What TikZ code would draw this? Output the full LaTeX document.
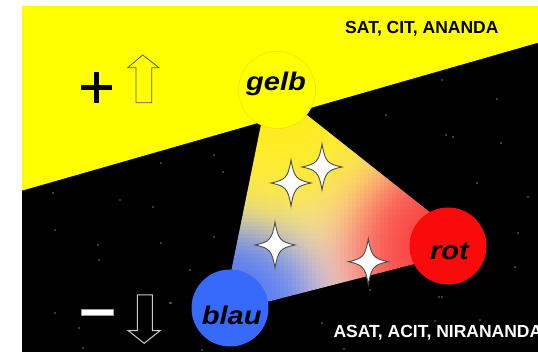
\documentclass[tikz,border=0pt]{standalone}
\usepackage{fontspec}
\setmainfont{Liberation Sans}
\definecolor{yel}{RGB}{255,255,0}
\definecolor{bluec}{RGB}{55,105,250}
\definecolor{redc}{RGB}{250,10,10}
\tikzset{
  sparkle/.pic={
    \draw[fill=white, draw=black!70, line width=0.9pt]
      (0,-23) .. controls (3,-5.5) and (5.5,-3) .. (20,0)
      .. controls (5.5,3) and (3,5.5) .. (0,23)
      .. controls (-3,5.5) and (-5.5,3) .. (-20,0)
      .. controls (-5.5,-3) and (-3,-5.5) .. cycle;
  },
  ball/.style={circle, inner sep=0pt, minimum size=77pt},
  lbl/.style={anchor=base, font=\bfseries\itshape\fontsize{25.5}{30}\selectfont},
  caption/.style={anchor=base west, font=\bfseries\fontsize{17.5}{20}\selectfont}
}
\begin{document}
\begin{tikzpicture}[x=1pt,y=-1pt]
\useasboundingbox (0,0) rectangle (538,352);
\fill[white] (0,0) rectangle (538,352);
% background halves
\fill[black] (22,6) rectangle (538,352);
\fill[yel] (22,6) -- (538,6) -- (538,42.7) -- (22,190.6) -- cycle;
% small stars in the night
\foreach \p in {(497,99),(442,80),(446,135),(453,137),(386,115),(501,143),(477,183),
  (528,197),(518,233),(515,267),(439,297),(370,290),(322,323),(435,321),(344,349),
  (171,303),(83,348),(53,193),(55,230),(98,245),(99,260),(153,207),(161,163),
  (214,155),(223,172),(161,243),(214,237),(170,303),(79,328),(55,313),(202,350),
  (442,297),(352,152),(480,320),(120,200),(190,270)}
  \fill[white] \p circle (0.7);
% colour wedge
\begin{scope}
\clip (266,100) -- (288,100) -- (435,216.3) -- (430,260) -- (255,305) -- (230,277) -- cycle;
\foreach \x in {228,232,...,436} {
  \foreach \y in {98,102,...,306} {
    \pgfmathsetmacro{\fg}{exp(-(((\x+2-277)/85)^2+((\y+2-90)/85)^2))}
    \pgfmathsetmacro{\fb}{exp(-(((\x+2-230)/55)^2+((\y+2-308)/55)^2))}
    \pgfmathsetmacro{\fr}{exp(-(((\x+2-448)/62)^2+((\y+2-246)/62)^2))}
    \pgfmathsetmacro{\tot}{\fg+\fb+\fr+0.15}
    \pgfmathsetmacro{\cr}{min(1,(\fg*1+\fb*0.22+\fr*0.98+0.15*0.96)/\tot)}
    \pgfmathsetmacro{\cg}{min(1,(\fg*0.94+\fb*0.41+\fr*0.16+0.15*0.86)/\tot)}
    \pgfmathsetmacro{\cb}{min(1,(\fg*0.0+\fb*0.98+\fr*0.16+0.15*0.80)/\tot)}
    \definecolor{cc}{rgb}{\cr,\cg,\cb}
    \fill[cc] (\x,\y) rectangle +(4.4,4.4);
  }
}
\end{scope}
% colour balls
\node[ball, fill=yel, draw=yellow!88!black, line width=0.4pt] (gelb) at (277,90) {};
\node[ball, fill=bluec] (blau) at (230,308) {};
\node[ball, fill=redc] (rot) at (448,246) {};
\node[lbl] (gelbtxt) at (276,90.7) {\scalebox{1.14}[1]{gelb}};
\node[lbl] (blautxt) at (231.7,325) {\scalebox{1.14}[1]{blau}};
\node[lbl] (rottxt) at (449.5,260) {\scalebox{1.14}[1]{rot}};
% sparkles
\pic at (291,183) {sparkle};
\pic at (322,167) {sparkle};
\pic at (275,245) {sparkle};
\pic at (368.3,261.7) {sparkle};
% captions
\node[caption] (sat) at (341.7,33.7) {SAT, CIT, ANANDA};
\node[caption, text=white] (asat) at (330,337.3) {ASAT, ACIT, NIRANANDA};
% plus and up arrow
\draw[line width=5.5pt] (81,87.5) -- (112,87.5) (96.5,72) -- (96.5,103);
\draw[draw=black!65, line width=0.8pt, fill=yel]
  (142.7,55) -- (159,67.7) -- (151.7,67.7) -- (151.7,102.7) -- (136,102.7)
  -- (136,67.7) -- (127.7,67.7) -- cycle;
% minus and down arrow
\draw[fill=white, draw=black!40, line width=0.6pt] (81.7,309) rectangle (113.3,315.5);
\draw[draw=black!20, line width=1pt, fill=black]
  (137.3,295) -- (152.3,295) -- (152.3,330.7) -- (160,330.7) -- (144.2,343.3)
  -- (128.3,330.7) -- (137.3,330.7) -- cycle;
\end{tikzpicture}
\end{document}
